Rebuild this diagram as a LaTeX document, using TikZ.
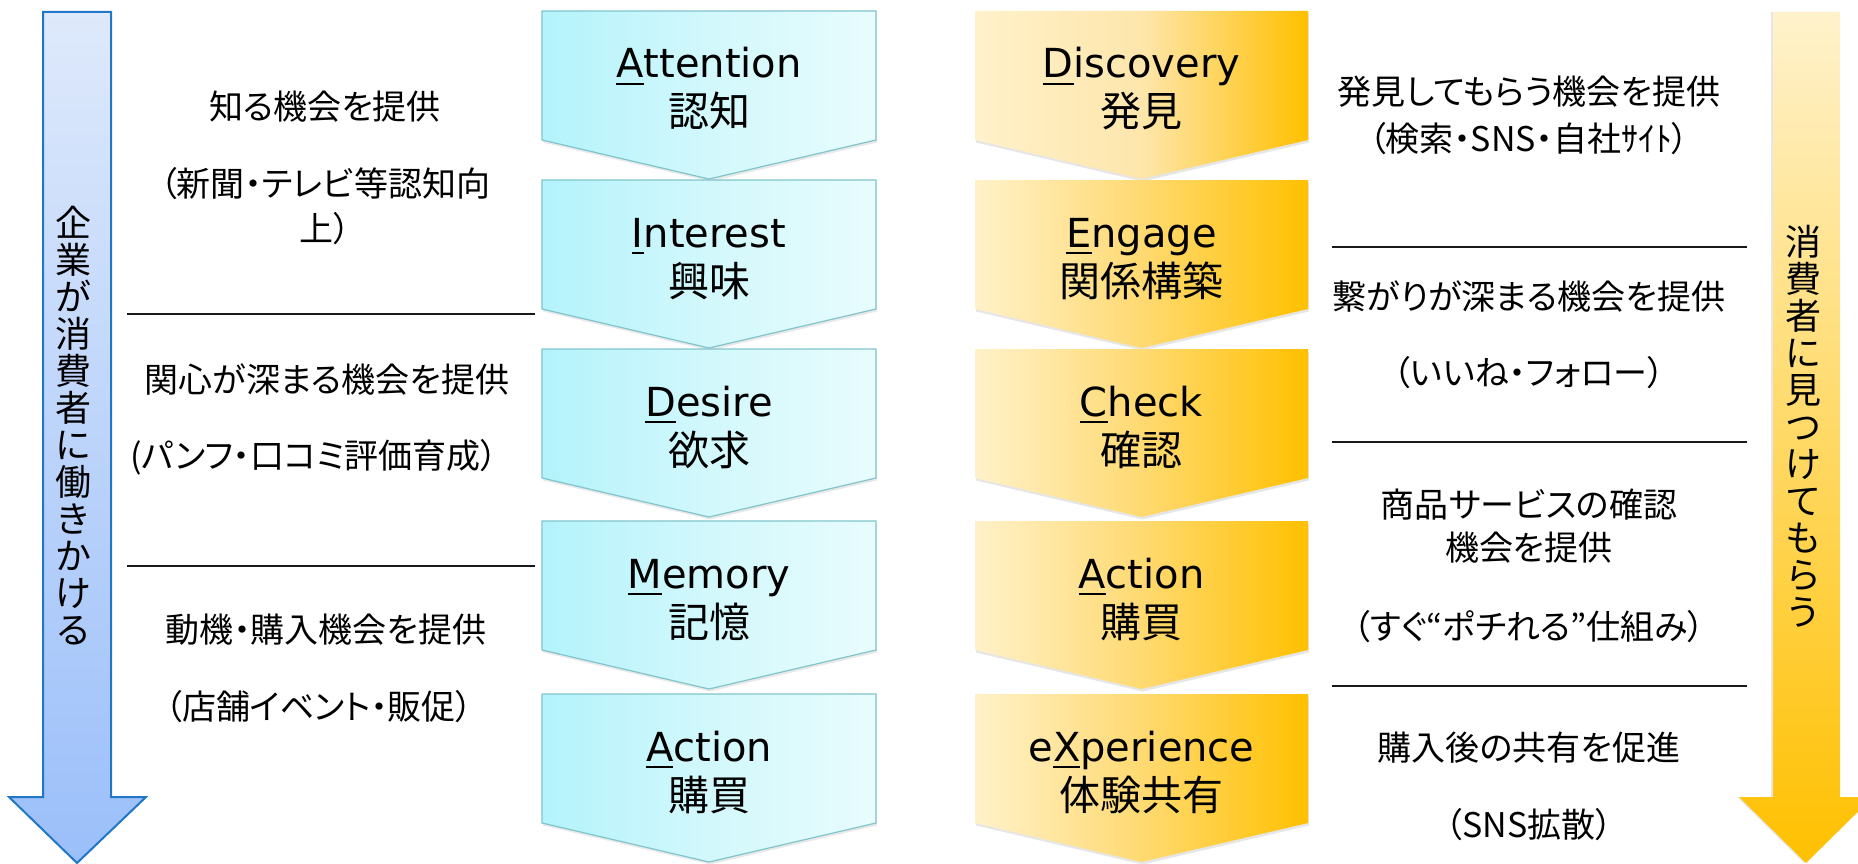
\documentclass[tikz,border=0pt]{standalone}
\usepackage{fontspec}
\setmainfont[RawFeature=+palt]{Noto Sans CJK JP}
\newfontfamily\latinfont{DejaVu Sans}
\newfontfamily\tatefont{Noto Sans CJK JP}
\usetikzlibrary{shadows}

\definecolor{aidmaleft}{HTML}{B3F3FB}
\definecolor{aidmamid}{HTML}{D2F8FC}
\definecolor{aidmaright}{HTML}{E8FCFD}
\definecolor{aidmaedge}{HTML}{80C4CC}
\definecolor{dressleft}{HTML}{FFF1CA}
\definecolor{dressmid}{HTML}{FFDA72}
\definecolor{dressmidfirst}{HTML}{FEE6AC}
\definecolor{dressright}{HTML}{FFC000}
\definecolor{pushtop}{HTML}{DEE9FB}
\definecolor{pushbottom}{HTML}{9BBFFA}
\definecolor{pushedge}{HTML}{1F77C6}
\definecolor{pulltop}{HTML}{FFF2CC}
\definecolor{pullbottom}{HTML}{FFC000}

% underlined initial of each stage
\newcommand\headletter[1]{\setbox0\hbox{#1}\rlap{\rule[-7pt]{\wd0}{2.2pt}}\box0}

\begin{document}
\begin{tikzpicture}[x=1pt,y=-1pt,
    stagetitle/.style={font=\latinfont\fontsize{40}{44}\selectfont, anchor=base, inner sep=0pt},
    stagejp/.style={font=\fontsize{41}{44}\selectfont, anchor=base, inner sep=0pt},
    note/.style={font=\fontsize{34}{45}\selectfont, align=center, inner sep=0pt},
    tategaki/.style={font=\tatefont\fontsize{36}{37}\selectfont, align=center, inner sep=0pt},
    divider/.style={line width=1.6pt, black!90},
    aidma/.style={left color=aidmaleft, right color=aidmaright, middle color=aidmamid,
        draw=aidmaedge, line width=1.2pt,
        drop shadow={opacity=0.18, shadow xshift=1pt, shadow yshift=-2.5pt}},
    dress/.style={left color=dressleft, right color=dressright, middle color=dressmid,
        drop shadow={opacity=0.2, shadow xshift=1pt, shadow yshift=-2.5pt}},
    dressfirst/.style={dress, middle color=dressmidfirst},
    push/.style={top color=pushtop, bottom color=pushbottom, draw=pushedge, line width=2pt},
    pull/.style={top color=pulltop, bottom color=pullbottom,
        drop shadow={opacity=0.2, shadow xshift=-2pt, shadow yshift=0pt}}]
\useasboundingbox (0,0) rectangle (1858,864);

% company side arrow
\path[push] (43,12) -- (111,12) -- (111,797) -- (146,797) -- (77,863) -- (9,797) -- (43,797) -- cycle;
\node[tategaki] (pushtext) at (73,426) {企\\業\\が\\消\\費\\者\\に\\働\\き\\か\\け\\る};

% consumer side arrow
\begin{scope}
\clip (0,0) rectangle (1858,864);
\path[pull] (1773,12) -- (1840,12) -- (1840,797) -- (1873,797) -- (1806,863) -- (1739,797) -- (1773,797) -- cycle;
\end{scope}
\node[tategaki] (pulltext) at (1803,426) {消\\費\\者\\に\\見\\つ\\け\\て\\も\\ら\\う};

% AIDMA
\foreach \ytop/\en/\jp [count=\i] in {11/\headletter{A}ttention/認知, 180/\headletter{I}nterest/興味,
        349/\headletter{D}esire/欲求, 521/\headletter{M}emory/記憶, 694/\headletter{A}ction/購買} {
    \path[aidma] (542,\ytop) -- (876,\ytop) -- (876,\ytop+129) -- (709,\ytop+168) -- (542,\ytop+129) -- cycle;
    \node[stagetitle] (aidma\i en) at (709,\ytop+67) {\en};
    \node[stagejp] (aidma\i jp) at (709,\ytop+116) {\jp};
}

% DECAX
\foreach \ytop/\en/\jp/\look [count=\i] in {11/\headletter{D}iscovery/発見/dressfirst, 180/\headletter{E}ngage/関係構築/dress,
        349/\headletter{C}heck/確認/dress, 521/\headletter{A}ction/購買/dress, 694/e\headletter{X}perience/体験共有/dress} {
    \path[\look] (975,\ytop) -- (1308,\ytop) -- (1308,\ytop+129) -- (1141.5,\ytop+168) -- (975,\ytop+129) -- cycle;
    \node[stagetitle] (decax\i en) at (1141.5,\ytop+67) {\en};
    \node[stagejp] (decax\i jp) at (1141.5,\ytop+116) {\jp};
}

% company notes
\node[note] (pa1) at (325,107) {知る機会を提供};
\node[note] (pa2) at (325,206) {（新聞・テレビ等認知向\\上）};
\draw[divider] (127,314) -- (535,314);
\node[note] (pb1) at (327,380) {関心が深まる機会を提供};
\node[note] (pb2) at (314,457) {(パンフ・口コミ評価育成）};
\draw[divider] (127,566) -- (535,566);
\node[note] (pc1) at (326,630) {動機・購入機会を提供};
\node[note] (pc2) at (319,707) {（店舗イベント・販促）};

% consumer notes
\node[note] (qa1) at (1529,92) {発見してもらう機会を提供};
\node[note] (qa2) at (1529,139) {（検索・SNS・自社ｻｲﾄ）};
\draw[divider] (1332,247) -- (1747,247);
\node[note] (qb1) at (1529,297) {繋がりが深まる機会を提供};
\node[note] (qb2) at (1529,373) {（いいね・フォロー）};
\draw[divider] (1332,442) -- (1747,442);
\node[note, font=\fontsize{34}{43}\selectfont] (qc1) at (1529,526) {商品サービスの確認\\機会を提供};
\node[note] (qc2) at (1529,627) {（すぐ“ポチれる”仕組み）};
\draw[divider] (1332,686) -- (1747,686);
\node[note] (qd1) at (1529,748) {購入後の共有を促進};
\node[note] (qd2) at (1529,825) {（SNS拡散）};
\end{tikzpicture}
\end{document}
